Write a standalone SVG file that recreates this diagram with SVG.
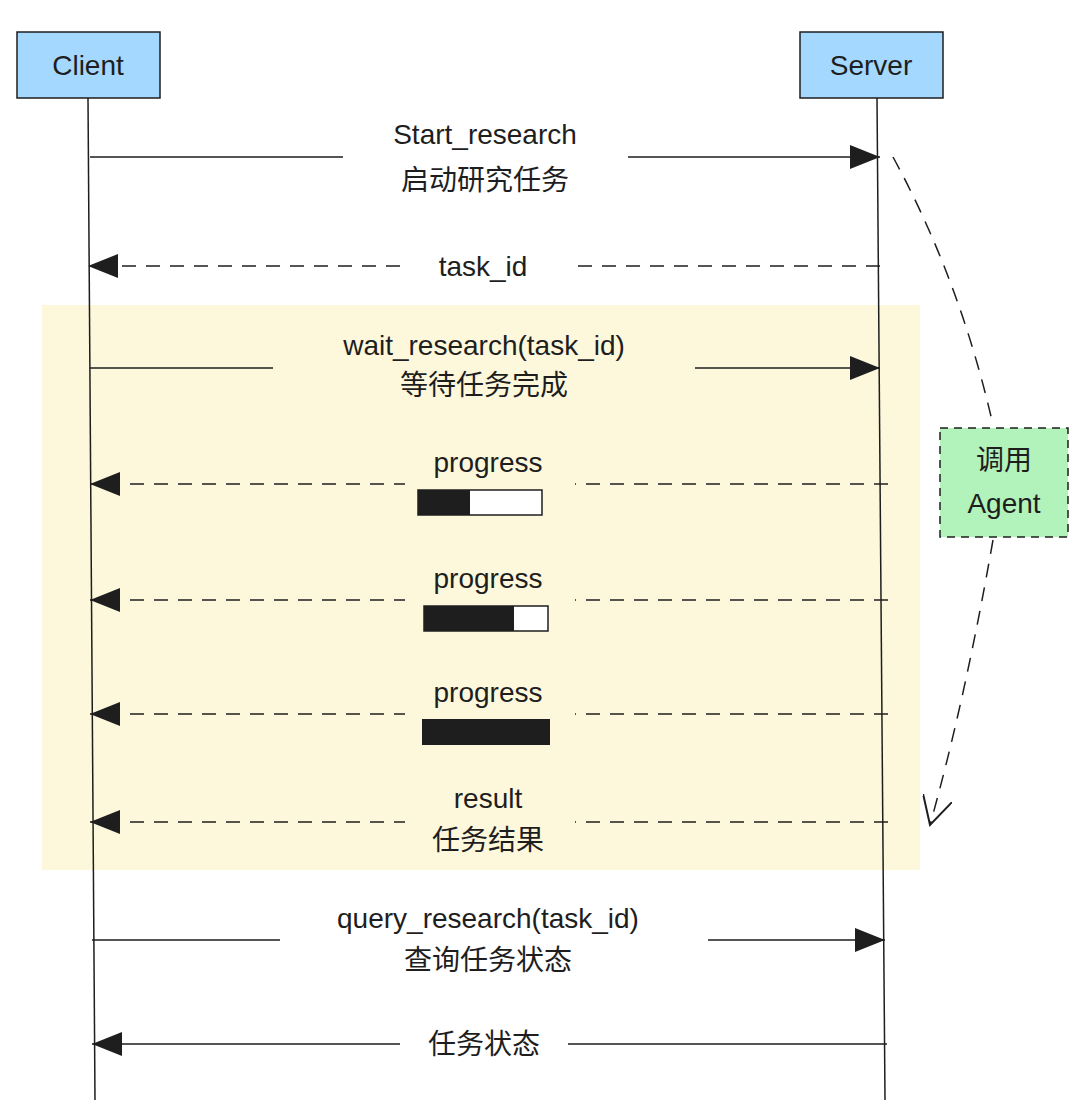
<svg xmlns="http://www.w3.org/2000/svg" width="1080" height="1109" viewBox="0 0 1080 1109">
<style>
text{font-family:"Liberation Sans","Noto Sans CJK SC",sans-serif;font-size:28px;fill:#1e1e1e;text-anchor:middle}
.actor{fill:#a5d8ff;stroke:#1e1e1e;stroke-width:1.5}
.life{stroke:#1e1e1e;stroke-width:1.5;fill:none}
.solid{stroke:#1e1e1e;stroke-width:1.5;fill:none;marker-end:url(#ah)}
.dash{stroke:#1e1e1e;stroke-width:1.5;fill:none;stroke-dasharray:14 10;marker-end:url(#ah)}
.bar{fill:#fff;stroke:#1e1e1e;stroke-width:1.5}
</style>
<defs>
<marker id="ah" viewBox="0 0 30 24" markerWidth="30" markerHeight="24" refX="30" refY="12" markerUnits="userSpaceOnUse" orient="auto"><path d="M0,0 L30,12 L0,24 Z" fill="#1e1e1e"/></marker>
<marker id="oh" viewBox="0 0 30 30" markerWidth="30" markerHeight="30" refX="28" refY="15" markerUnits="userSpaceOnUse" orient="auto"><path d="M0,0 L28,15 L0,30" fill="none" stroke="#1e1e1e" stroke-width="2"/></marker>
</defs>
<rect x="42" y="305" width="878" height="565" fill="#fdf8dc"/>
<g id="client"><rect class="actor" x="17" y="32" width="143" height="66"/><text x="88" y="75">Client</text><line class="life" x1="88" y1="98" x2="95" y2="1100"/></g>
<g id="server"><rect class="actor" x="800" y="32" width="143" height="66"/><text x="871" y="75">Server</text><line class="life" x1="877" y1="98" x2="885" y2="1100"/></g>
<g id="agent"><rect x="940" y="428" width="128" height="109" fill="#b2f2bb" stroke="#1e1e1e" stroke-width="1.5" stroke-dasharray="8 6"/><text x="1004" y="470">调用</text><text x="1004" y="513">Agent</text></g>
<g id="connectors">
<path class="solid" d="M90,157 H343 M628,157 H880"/>
<text x="485" y="144">Start_research</text><text x="485" y="190">启动研究任务</text>
<path class="dash" d="M880,266 H88"/>
<rect x="400" y="248" width="170" height="36" fill="#fff"/>
<text x="483" y="276">task_id</text>
<path class="solid" d="M90,368 H273 M695,368 H880"/>
<text x="484" y="355">wait_research(task_id)</text><text x="484" y="395">等待任务完成</text>
<path class="dash" d="M888,484 H90"/>
<rect x="405" y="446" width="170" height="70" fill="#fdf8dc"/>
<text x="488" y="472">progress</text>
<rect class="bar" x="418" y="490" width="124" height="25"/><rect x="418" y="490" width="52" height="25" fill="#1e1e1e"/>
<path class="dash" d="M888,600 H90"/>
<rect x="405" y="562" width="170" height="72" fill="#fdf8dc"/>
<text x="488" y="588">progress</text>
<rect class="bar" x="424" y="606" width="124" height="25"/><rect x="424" y="606" width="90" height="25" fill="#1e1e1e"/>
<path class="dash" d="M888,714 H90"/>
<rect x="405" y="676" width="170" height="72" fill="#fdf8dc"/>
<text x="488" y="702">progress</text>
<rect x="422" y="719" width="128" height="26" fill="#1e1e1e"/>
<path class="dash" d="M888,822 H90"/>
<rect x="405" y="780" width="170" height="80" fill="#fdf8dc"/>
<text x="488" y="808">result</text><text x="488" y="850">任务结果</text>
<path class="solid" d="M92,940 H280 M708,940 H885"/>
<text x="488" y="928">query_research(task_id)</text><text x="488" y="970">查询任务状态</text>
<path class="solid" d="M568,1044 H887 M400,1044 H92"/>
<text x="484" y="1054">任务状态</text>
<path d="M893,157 Q960,280 993,425" fill="none" stroke="#1e1e1e" stroke-width="1.5" stroke-dasharray="14 10"/>
<path d="M993,540 Q965,700 930,825" fill="none" stroke="#1e1e1e" stroke-width="1.5" stroke-dasharray="14 10" marker-end="url(#oh)"/>
</g>
</svg>
